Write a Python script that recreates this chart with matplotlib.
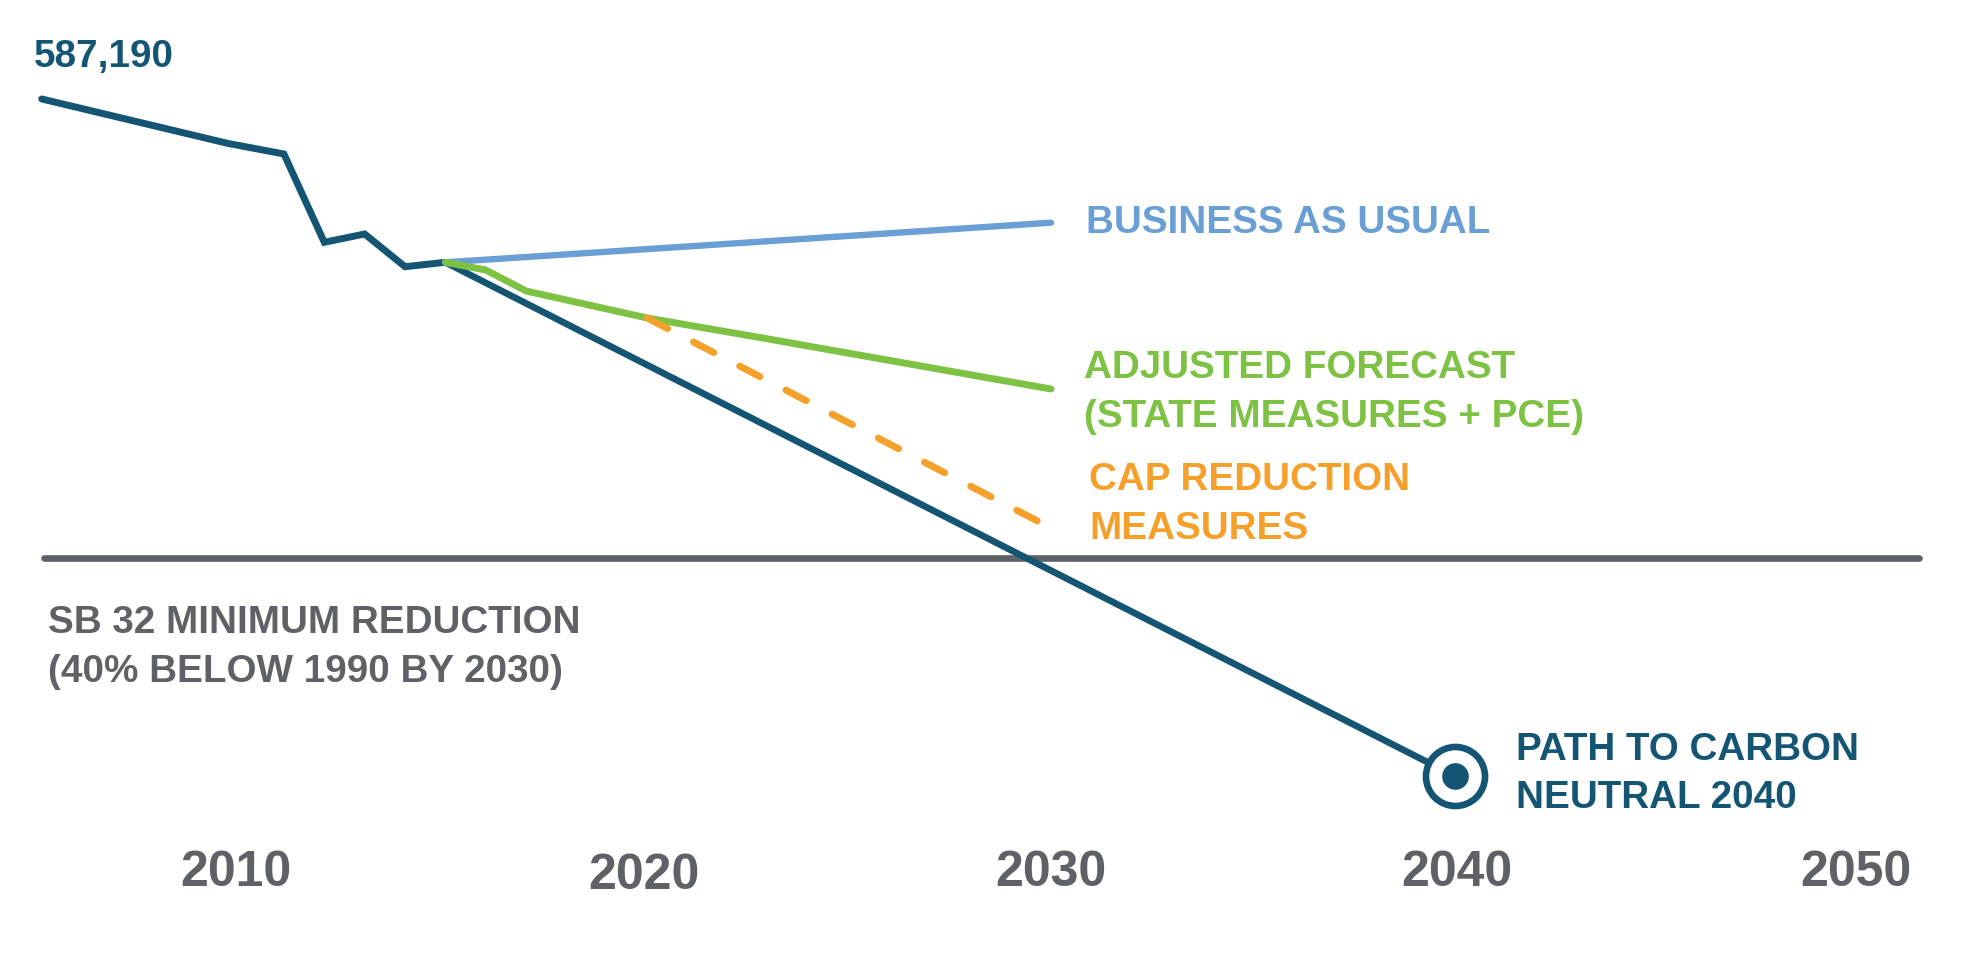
import matplotlib
matplotlib.use('Agg')
import matplotlib.pyplot as plt
from matplotlib.transforms import ScaledTranslation

plt.rcParams['font.family'] = ['Liberation Sans', 'DejaVu Sans']
plt.rcParams['font.weight'] = 'bold'

# emissions (MT CO2e)
hist_years = [2005, 2009.6, 2011, 2012, 2013, 2014, 2015]
hist_values = [587190, 548740, 539460, 462880, 470080, 441710, 445530]

bau_years = [2015, 2030]
bau_values = [445530, 479880]

adj_years = [2015, 2016, 2017, 2020, 2023, 2030]
adj_values = [445530, 438850, 420640, 397220, 379010, 335640]

cap_years = [2020, 2030]
cap_values = [397220, 215090]

neutral_years = [2015, 2040]
neutral_values = [445530, 0]

sb32_level = 189500
sb32_span = [2005.05, 2051.5]

tick_years = [2010, 2020, 2030, 2040, 2050]
tick_labels = ['2010', '2020', '2030', '2040', '2050']

DARK = '#155574'
LIGHT = '#6A9FD5'
GREEN = '#7DC243'
ORANGE = '#F6A02C'
GRAY = '#5E6266'

LABEL_SIZE = 27.8

fig = plt.figure(figsize=(19.64, 9.56), dpi=100)
ax = fig.add_axes([0, 136 / 956, 1, 820 / 956])
ax.set_xlim(2003.967, 2052.617)
ax.set_ylim(-38161, 673025)

# SB 32 target line
ax.plot(sb32_span, [sb32_level, sb32_level], color=GRAY, lw=4.8,
        solid_capstyle='round', zorder=1)

ax.plot(hist_years, hist_values, color=DARK, lw=5.0,
        solid_capstyle='round', solid_joinstyle='miter', zorder=2)
ax.plot(neutral_years, neutral_values, color=DARK, lw=4.8,
        solid_capstyle='round', zorder=2)
ax.plot(bau_years, bau_values, color=LIGHT, lw=4.6,
        solid_capstyle='round', zorder=3)
ax.plot(adj_years, adj_values, color=GREEN, lw=5.0,
        solid_capstyle='round', zorder=4)
cap_line, = ax.plot(cap_years, cap_values, color=ORANGE, lw=5.0,
                    dash_capstyle='round', zorder=5)
cap_line.set_dashes([3.3, 4.2])

# carbon neutral target marker
ax.plot(neutral_years[-1], neutral_values[-1], marker='o', ms=42.5,
        mfc='white', mec=DARK, mew=4.8, zorder=6)
ax.plot(neutral_years[-1], neutral_values[-1], marker='o', ms=19.2,
        color=DARK, mew=0, zorder=7)


def label(text, xy, dx, dy, color):
    ax.annotate(text, xy=xy, xytext=(dx, dy), textcoords='offset pixels',
                color=color, fontsize=LABEL_SIZE, fontweight='bold',
                ha='left', va='baseline', annotation_clip=False)


label('587,190', (hist_years[0], hist_values[0]), -8, 32, DARK)
label('BUSINESS AS USUAL', (bau_years[-1], bau_values[-1]), 35.5, -10, LIGHT)
label('ADJUSTED FORECAST', (adj_years[-1], adj_values[-1]), 33.5, 11, GREEN)
label('(STATE MEASURES + PCE)', (adj_years[-1], adj_values[-1]), 33.5, -38, GREEN)
label('CAP REDUCTION', (cap_years[-1], cap_values[-1]), 38.5, 38, ORANGE)
label('MEASURES', (cap_years[-1], cap_values[-1]), 38.5, -11, ORANGE)
label('PATH TO CARBON', (neutral_years[-1], neutral_values[-1]), 61.5, 16, DARK)
label('NEUTRAL 2040', (neutral_years[-1], neutral_values[-1]), 61.5, -32, DARK)
label('SB 32 MINIMUM REDUCTION', (2005, sb32_level), 6, -75, GRAY)
label('(40% BELOW 1990 BY 2030)', (2005, sb32_level), 6, -124, GRAY)

ax.set_xticks(tick_years)
ax.set_xticklabels(tick_labels, fontsize=36, fontweight='bold', color=GRAY)
ax.tick_params(axis='x', length=0, pad=21.6)
ax.set_yticks([])
for s in ax.spines.values():
    s.set_visible(False)

# small nudges so the year labels sit where they do in the original (pixels)
nudges = [(-8, 0), (-3, -3), (0, 0), (2, 0), (-3, 0)]
for lbl, (dx, dy) in zip(ax.get_xticklabels(), nudges):
    lbl.set_transform(lbl.get_transform()
                      + ScaledTranslation(dx / 100, dy / 100, fig.dpi_scale_trans))

fig.savefig('out.png', dpi=100)
